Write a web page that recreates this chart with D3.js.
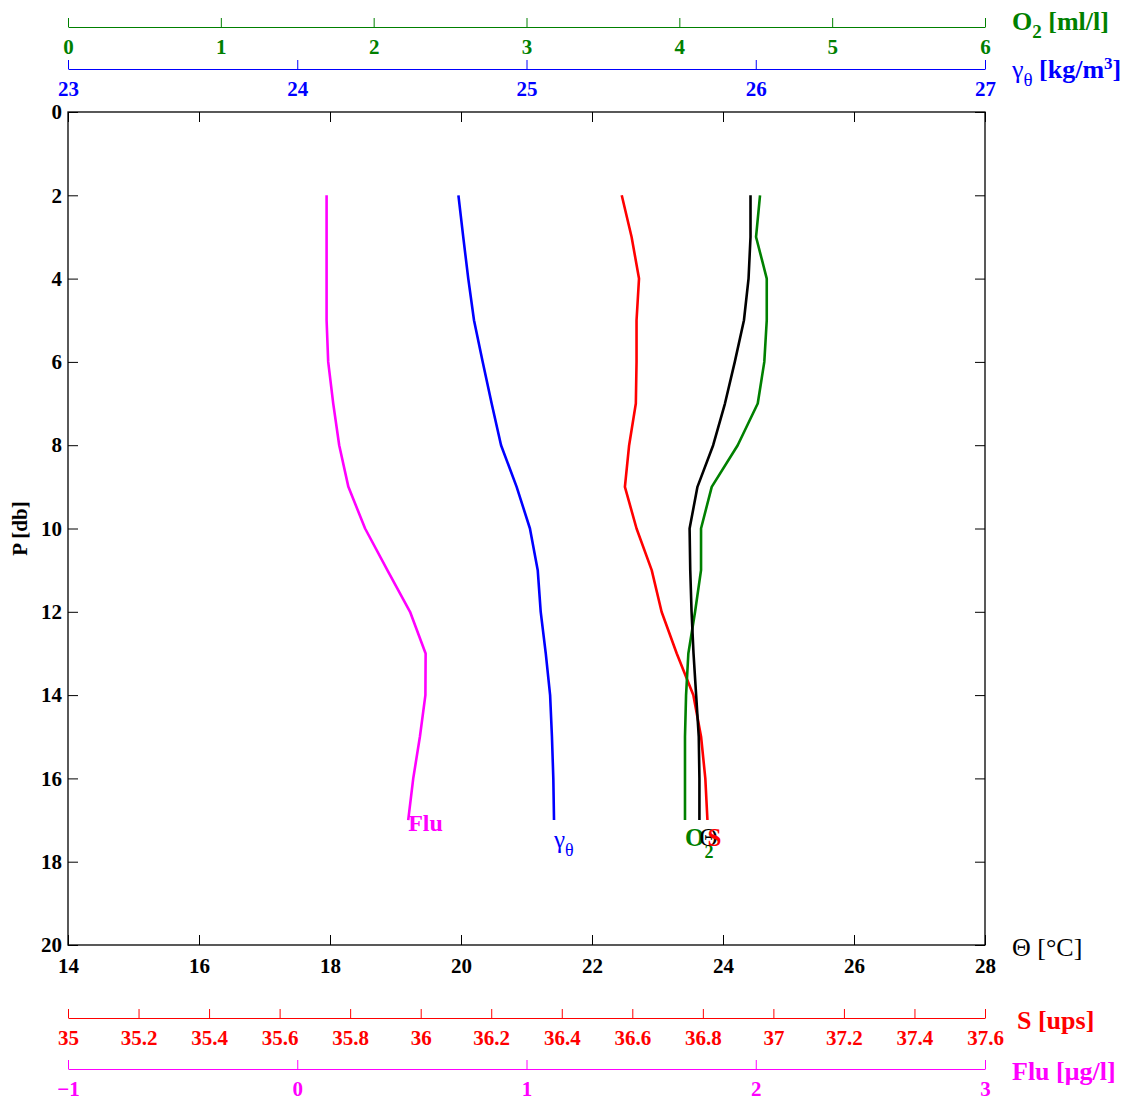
<!DOCTYPE html>
<html lang="en">
  <head>
    <meta charset="UTF-8" />
    <title>Profile</title>
    <style>
      body { margin: 0; background: #fff; }
      text { font-family: "Liberation Serif", "Times New Roman", serif; }
      .tick text { font-weight: bold; font-size: 21px; }
    </style>
  </head>
  <body>
    <div id="chart"></div>

    <script src="https://cdn.jsdelivr.net/npm/d3@7/dist/d3.min.js"></script>
    <script>
      // pressure levels (db)
      var pres = [2, 3, 4, 5, 6, 7, 8, 9, 10, 11, 12, 13, 14, 15, 16, 17];
      // potential temperature (°C)
      var theta = [24.42, 24.42, 24.39, 24.32, 24.18, 24.03, 23.85, 23.61, 23.49, 23.50, 23.52, 23.55, 23.59, 23.63, 23.64, 23.64];
      // salinity (ups)
      var sal = [36.570, 36.598, 36.619, 36.612, 36.612, 36.610, 36.591, 36.579, 36.612, 36.655, 36.683, 36.726, 36.773, 36.795, 36.807, 36.813];
      // oxygen (ml/l)
      var oxy = [4.528, 4.502, 4.572, 4.572, 4.556, 4.513, 4.382, 4.212, 4.142, 4.142, 4.103, 4.059, 4.044, 4.037, 4.037, 4.037];
      // potential density anomaly (kg/m3)
      var gam = [24.703, 24.724, 24.746, 24.771, 24.809, 24.848, 24.889, 24.957, 25.015, 25.049, 25.062, 25.084, 25.103, 25.111, 25.117, 25.120];
      // fluorescence (ug/l)
      var flu = [0.128, 0.128, 0.128, 0.128, 0.135, 0.157, 0.183, 0.223, 0.296, 0.393, 0.492, 0.560, 0.559, 0.535, 0.506, 0.484];

      var thetaTicks = [14, 16, 18, 20, 22, 24, 26, 28];
      var presTicks = [0, 2, 4, 6, 8, 10, 12, 14, 16, 18, 20];
      var oxyTicks = [0, 1, 2, 3, 4, 5, 6];
      var gamTicks = [23, 24, 25, 26, 27];
      var salTicks = [35, 35.2, 35.4, 35.6, 35.8, 36, 36.2, 36.4, 36.6, 36.8, 37, 37.2, 37.4, 37.6];
      var fluTicks = [-1, 0, 1, 2, 3];

      var width = 1124;
      var height = 1101;
      var pLeft = 68, pRight = 985, pTop = 112, pBottom = 945;

      var svg = d3.select("#chart")
                  .append("svg")
                  .attr("width", width)
                  .attr("height", height);

      var xTheta = d3.scaleLinear().domain([14, 28]).range([pLeft, pRight]);
      var yP = d3.scaleLinear().domain([0, 20]).range([pTop, pBottom]);
      var xOxy = d3.scaleLinear().domain([0, 6]).range([pLeft, pRight]);
      var xGam = d3.scaleLinear().domain([23, 27]).range([pLeft, pRight]);
      var xSal = d3.scaleLinear().domain([35, 37.6]).range([pLeft, pRight]);
      var xFlu = d3.scaleLinear().domain([-1, 3]).range([pLeft, pRight]);

      function fmt(d) {
        return d < 0 ? "\u2212" + Math.abs(d) : String(+d.toFixed(1));
      }

      // main frame
      svg.append("rect")
         .attr("x", pLeft).attr("y", pTop)
         .attr("width", pRight - pLeft).attr("height", pBottom - pTop)
         .attr("fill", "none").attr("stroke", "#000").attr("stroke-width", 1.3);

      svg.append("g")
         .attr("transform", "translate(0," + pBottom + ")")
         .call(d3.axisBottom(xTheta).tickValues(thetaTicks).tickSize(-10).tickPadding(13).tickFormat(fmt));
      svg.append("g")
         .attr("transform", "translate(0," + pTop + ")")
         .call(d3.axisTop(xTheta).tickValues(thetaTicks).tickSize(-10).tickFormat(""));
      svg.append("g")
         .attr("transform", "translate(" + pLeft + ",0)")
         .call(d3.axisLeft(yP).tickValues(presTicks).tickSize(-10).tickPadding(6).tickFormat(fmt));
      svg.append("g")
         .attr("transform", "translate(" + pRight + ",0)")
         .call(d3.axisRight(yP).tickValues(presTicks).tickSize(-10).tickFormat(""));
      svg.selectAll(".domain").attr("stroke", "none");
      svg.selectAll(".tick line").attr("stroke", "#000");
      svg.selectAll(".tick text").attr("fill", "#000");

      // extra axes: line with ticks pointing up, labels below
      function sideAxis(scale, ticks, y, color) {
        var g = svg.append("g")
           .attr("transform", "translate(0," + y + ")")
           .call(d3.axisTop(scale).tickValues(ticks).tickSizeInner(9).tickSizeOuter(0).tickFormat(fmt));
        g.select(".domain").attr("stroke", color);
        g.selectAll(".tick line").attr("stroke", color);
        g.selectAll(".tick text").attr("fill", color).attr("y", 27).attr("dy", 0);
        return g;
      }
      sideAxis(xOxy, oxyTicks, 27, "#008000");
      sideAxis(xGam, gamTicks, 69, "#0000ff");
      sideAxis(xSal, salTicks, 1018, "#ff0000");
      sideAxis(xFlu, fluTicks, 1069, "#ff00ff");

      // profiles
      var series = [
        { vals: flu, x: xFlu, color: "#ff00ff" },
        { vals: gam, x: xGam, color: "#0000ff" },
        { vals: sal, x: xSal, color: "#ff0000" },
        { vals: oxy, x: xOxy, color: "#008000" },
        { vals: theta, x: xTheta, color: "#000000" }
      ];
      series.forEach(function(s) {
        var line = d3.line()
          .x(function(d) { return s.x(d); })
          .y(function(d, i) { return yP(pres[i]); });
        svg.append("path")
           .attr("d", line(s.vals))
           .attr("fill", "none")
           .attr("stroke", s.color)
           .attr("stroke-width", 2.6)
           .attr("stroke-linejoin", "round");
      });

      // end labels
      var last = pres.length - 1;
      var pEnd = yP(pres[last]);
      svg.append("text")
         .attr("x", xFlu(flu[last])).attr("y", pEnd + 11)
         .attr("fill", "#ff00ff").attr("font-weight", "bold").attr("font-size", 24)
         .text("Flu");
      var gl = svg.append("text")
         .attr("x", xGam(gam[last])).attr("y", pEnd + 28)
         .attr("fill", "#0000ff").attr("font-size", 25);
      gl.append("tspan").text("\u03b3");
      gl.append("tspan").attr("font-size", 18).attr("dy", 8).text("\u03b8");
      var ol = svg.append("text")
         .attr("x", xOxy(oxy[last])).attr("y", pEnd + 26)
         .attr("fill", "#008000").attr("font-weight", "bold").attr("font-size", 25);
      ol.append("tspan").text("O");
      ol.append("tspan").attr("font-size", 18).attr("dy", 12).text("2");
      svg.append("text")
         .attr("x", xTheta(theta[last])).attr("y", pEnd + 26)
         .attr("fill", "#000").attr("font-size", 25)
         .text("\u0398");
      svg.append("text")
         .attr("x", xSal(sal[last])).attr("y", pEnd + 26)
         .attr("fill", "#ff0000").attr("font-weight", "bold").attr("font-size", 25)
         .text("S");

      // axis titles
      var t1 = svg.append("text").attr("x", 1012).attr("y", 30)
         .attr("fill", "#008000").attr("font-weight", "bold").attr("font-size", 26);
      t1.append("tspan").text("O");
      t1.append("tspan").attr("font-size", 19).attr("dy", 8).text("2");
      t1.append("tspan").attr("dy", -8).text(" [ml/l]");

      var t2 = svg.append("text").attr("x", 1012).attr("y", 78)
         .attr("fill", "#0000ff").attr("font-size", 26);
      t2.append("tspan").text("\u03b3");
      t2.append("tspan").attr("font-size", 19).attr("dy", 8).text("\u03b8");
      t2.append("tspan").attr("dy", -8).attr("font-weight", "bold").text(" [kg/m");
      t2.append("tspan").attr("font-weight", "bold").attr("font-size", 17).attr("dy", -9).text("3");
      t2.append("tspan").attr("font-weight", "bold").attr("dy", 9).text("]");

      svg.append("text").attr("x", 1012).attr("y", 956)
         .attr("fill", "#000").attr("font-size", 26)
         .text("\u0398 [\u00b0C]");
      svg.append("text").attr("x", 1017).attr("y", 1029)
         .attr("fill", "#ff0000").attr("font-weight", "bold").attr("font-size", 26)
         .text("S [ups]");
      svg.append("text").attr("x", 1012).attr("y", 1080)
         .attr("fill", "#ff00ff").attr("font-weight", "bold").attr("font-size", 26)
         .text("Flu [\u03bcg/l]");

      svg.append("text")
         .attr("transform", "translate(27," + ((pTop + pBottom) / 2) + ") rotate(-90)")
         .attr("text-anchor", "middle")
         .attr("font-weight", "bold").attr("font-size", 21)
         .text("P [db]");
    </script>
  </body>
</html>
